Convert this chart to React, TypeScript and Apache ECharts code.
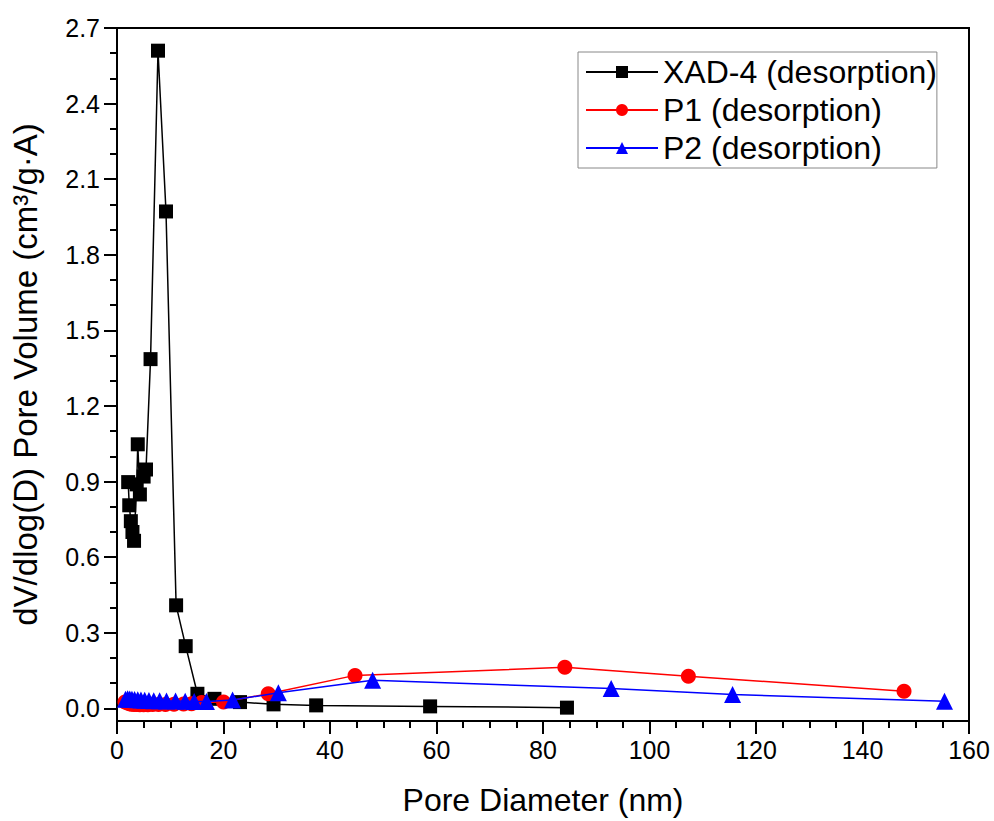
import React, { useEffect, useRef } from "react";
import * as echarts from "echarts";

const xadX = [2.1, 2.3, 2.6, 2.9, 3.2, 3.7, 3.9, 4.3, 5.0, 5.45, 6.3, 7.7, 9.2, 11.1, 12.9, 15.1, 18.3, 23.1, 29.4, 37.4, 58.8, 84.5];
const xadY = [0.898, 0.806, 0.743, 0.70, 0.665, 0.889, 1.048, 0.849, 0.92, 0.948, 1.386, 2.61, 1.972, 0.409, 0.247, 0.058, 0.038, 0.025, 0.016, 0.012, 0.008, 0.003];

const p1X = [1.5, 1.9, 2.3, 2.7, 3.2, 3.7, 4.3, 5.0, 5.8, 6.7, 7.8, 9.1, 10.7, 12.5, 14.0, 15.9, 20.0, 28.4, 44.7, 84.1, 107.3, 147.8];
const p1Y = [0.025, 0.022, 0.018, 0.016, 0.015, 0.015, 0.014, 0.014, 0.014, 0.015, 0.015, 0.015, 0.016, 0.017, 0.018, 0.023, 0.025, 0.058, 0.131, 0.163, 0.128, 0.068];

const p2X = [1.6, 2.0, 2.4, 2.8, 3.3, 3.9, 4.5, 5.2, 6.0, 6.9, 8.0, 9.3, 11.0, 12.8, 14.5, 16.8, 21.7, 30.3, 48.0, 92.8, 115.6, 155.4];
const p2Y = [0.036, 0.038, 0.037, 0.036, 0.035, 0.034, 0.033, 0.032, 0.031, 0.030, 0.030, 0.029, 0.029, 0.028, 0.027, 0.027, 0.033, 0.062, 0.112, 0.079, 0.055, 0.028];

const yMajorTicks = [0, 0.3, 0.6, 0.9, 1.2, 1.5, 1.8, 2.1, 2.4, 2.7];
const yMinorTicks = [0.1, 0.2, 0.4, 0.5, 0.7, 0.8, 1.0, 1.1, 1.3, 1.4, 1.6, 1.7, 1.9, 2.0, 2.2, 2.3, 2.5, 2.6];

const seriesNames = ["XAD-4 (desorption)", "P1 (desorption)", "P2 (desorption)"];

const FONT = "'Liberation Sans', Arial, sans-serif";

function zip(xs: number[], ys: number[]) {
  return xs.map((x, i) => [x, ys[i]]);
}

export default function App() {
  const ref = useRef<HTMLDivElement>(null);
  useEffect(() => {
    if (!ref.current) return;
    const chart = echarts.init(ref.current, null, { renderer: "svg" });
    chart.setOption({
      animation: false,
      backgroundColor: "#fff",
      textStyle: { fontFamily: FONT },
      grid: {
        left: 117,
        right: 25,
        top: 28,
        bottom: 99,
        show: true,
        borderColor: "#000",
        borderWidth: 2,
        backgroundColor: "transparent",
      },
      legend: {
        left: 578,
        top: 52,
        orient: "vertical",
        backgroundColor: "#fff",
        borderColor: "#888",
        borderWidth: 1,
        borderRadius: 0,
        padding: [3, 0, 3, 7],
        itemWidth: 72,
        itemHeight: 15,
        itemGap: 4,
        textStyle: { fontFamily: FONT, fontSize: 32, color: "#000", lineHeight: 34, padding: [0, 0, 0, 0] },
        data: seriesNames,
      },
      xAxis: {
        type: "value",
        min: 0,
        max: 160,
        interval: 20,
        name: "Pore Diameter (nm)",
        nameLocation: "middle",
        nameGap: 63,
        nameTextStyle: { fontFamily: FONT, fontSize: 32, color: "#000" },
        axisLine: { show: true, onZero: false, lineStyle: { color: "#000", width: 2 } },
        axisTick: { show: true, length: 13, lineStyle: { color: "#000", width: 2 } },
        minorTick: { show: true, splitNumber: 4, length: 7, lineStyle: { color: "#000", width: 2 } },
        axisLabel: { fontFamily: FONT, fontSize: 25, color: "#000", margin: 16 },
        splitLine: { show: false },
        minorSplitLine: { show: false },
      },
      yAxis: [
        {
          type: "value",
          min: -0.05,
          max: 2.7,
          name: "dV/dlog(D) Pore Volume (cm³/g·A)",
          nameLocation: "middle",
          nameGap: 75,
          nameTextStyle: { fontFamily: FONT, fontSize: 33, color: "#000" },
          axisLine: { show: true, onZero: false, lineStyle: { color: "#000", width: 2 } },
          axisTick: { show: true, length: 13, customValues: yMajorTicks, lineStyle: { color: "#000", width: 2 } },
          axisLabel: {
            fontFamily: FONT,
            fontSize: 25,
            color: "#000",
            margin: 17,
            customValues: yMajorTicks,
            formatter: (v: number) => v.toFixed(1),
          },
          splitLine: { show: false },
        },
        {
          type: "value",
          min: -0.05,
          max: 2.7,
          position: "left",
          axisLine: { show: false },
          axisTick: { show: true, length: 7, customValues: yMinorTicks, lineStyle: { color: "#000", width: 2 } },
          axisLabel: { show: false },
          splitLine: { show: false },
        },
      ],
      series: [
        {
          name: seriesNames[0],
          type: "line",
          data: zip(xadX, xadY),
          symbol: "rect",
          symbolSize: 14,
          itemStyle: { color: "#000" },
          lineStyle: { color: "#000", width: 1.5 },
          z: 2,
        },
        {
          name: seriesNames[1],
          type: "line",
          data: zip(p1X, p1Y),
          symbol: "circle",
          symbolSize: 15,
          itemStyle: { color: "#ff0000" },
          lineStyle: { color: "#ff0000", width: 1.5 },
          z: 3,
        },
        {
          name: seriesNames[2],
          type: "line",
          data: zip(p2X, p2Y),
          symbol: "triangle",
          symbolSize: 17,
          itemStyle: { color: "#0000ff" },
          lineStyle: { color: "#0000ff", width: 1.5 },
          z: 4,
        },
      ],
    });
    return () => chart.dispose();
  }, []);
  return <div ref={ref} style={{ width: 994, height: 821, position: "absolute", left: 0, top: 0 }} />;
}
